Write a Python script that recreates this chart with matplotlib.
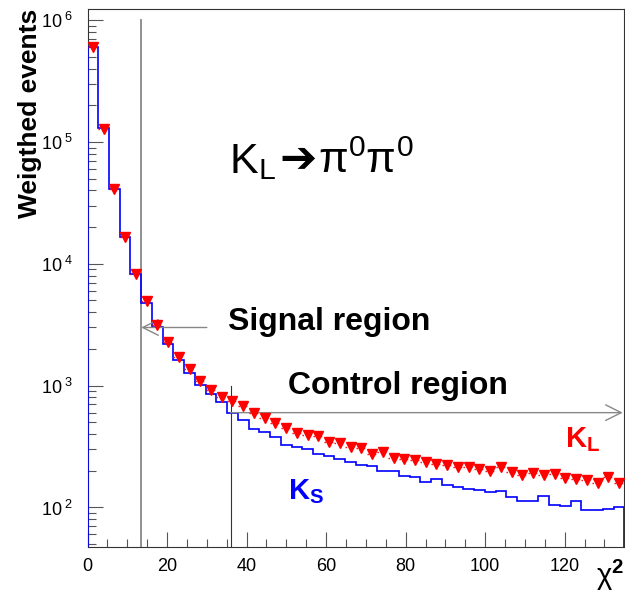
import numpy as np
import matplotlib
matplotlib.use('Agg')
import matplotlib.pyplot as plt
from matplotlib.ticker import FixedLocator, FixedFormatter, MultipleLocator

plt.rcParams['font.family'] = ['Liberation Sans', 'DejaVu Sans']
plt.rcParams['mathtext.fontset'] = 'custom'
plt.rcParams['mathtext.rm'] = 'Liberation Sans'
plt.rcParams['mathtext.it'] = 'Liberation Sans:italic'
plt.rcParams['mathtext.bf'] = 'Liberation Sans:bold'

# chi2 histogram: 50 bins of width 2.7 between 0 and 135
bin_edges = np.linspace(0, 135, 51)

# K_S reference sample (blue histogram)
ks_events = [6.0e5, 1.3e5, 4.1e4, 1.67e4, 8.2e3, 4.8e3, 3.05e3, 2.2e3, 1.62e3, 1.27e3,
             1.02e3, 850, 730, 600, 520, 440, 418, 380, 328, 315,
             300, 275, 262, 252, 237, 222, 218, 200, 200, 180,
             178, 163, 170, 153, 148, 143, 140, 134, 136, 122,
             113, 113, 124, 104, 103, 113, 95, 95, 98, 100]

# K_L sample (red triangles)
kl_events = [6.0e5, 1.28e5, 4.1e4, 1.65e4, 8.2e3, 4.95e3, 3.15e3, 2.28e3, 1.72e3, 1.36e3,
             1.1e3, 920, 810, 748, 680, 600, 540, 495, 448, 405,
             393, 385, 346, 339, 315, 305, 274, 286, 257, 252,
             245, 237, 227, 222, 215, 213, 205, 200, 213, 196,
             185, 190, 184, 188, 176, 170, 167, 159, 177, 160]

signal_cut = 13.5
control_cut = 36.0

fig = plt.figure(figsize=(6.25, 6.11), dpi=100)
ax = fig.add_axes([0.14, 0.105, 0.859, 0.88])

centers = 0.5 * (bin_edges[:-1] + bin_edges[1:])
ax.stairs(ks_events, bin_edges, baseline=1e-3, color='#0000ff', lw=1.2, zorder=3)
# dotted bin-width bars + markers for K_L
ax.hlines(kl_events, bin_edges[:-1], bin_edges[1:], colors='red', linestyles=':', lw=1.0, zorder=4)
ax.plot(centers, kl_events, linestyle='none', marker='v', markersize=7,
        markerfacecolor='red', markeredgecolor='red', zorder=5)

ax.set_yscale('log')
ax.set_xlim(0, 135)
ax.set_ylim(47.5, 1.23e6)

# cut lines and arrows
ax.plot([signal_cut, signal_cut], [1e6, 47.5], color='#888888', lw=1.3, zorder=2)
ax.plot([control_cut, control_cut], [1e3, 47.5], color='#333333', lw=0.8, zorder=2)
ax.annotate('', xy=(signal_cut, 3000), xytext=(30, 3000),
            arrowprops=dict(arrowstyle='->', color='#888888', lw=1.0,
                            shrinkA=0, shrinkB=0, mutation_scale=28))
ax.annotate('', xy=(134.6, 600), xytext=(control_cut, 600),
            arrowprops=dict(arrowstyle='->', color='#888888', lw=1.0,
                            shrinkA=0, shrinkB=0, mutation_scale=28))

# ticks, ROOT style (inside, left/bottom only)
ax.xaxis.set_major_locator(MultipleLocator(20))
ax.xaxis.set_minor_locator(MultipleLocator(5))
majors = [1e2, 1e3, 1e4, 1e5, 1e6]
ax.yaxis.set_major_locator(FixedLocator(majors))
ax.yaxis.set_major_formatter(FixedFormatter([r'$\mathregular{10^{\ %d}}$' % e for e in range(2, 7)]))
minors = [m * 10 ** e for e in range(1, 7) for m in range(2, 10)]
ax.yaxis.set_minor_locator(FixedLocator(minors))
ax.yaxis.set_minor_formatter(FixedFormatter([''] * len(minors)))
ax.tick_params(which='both', direction='in', top=False, right=False, labelsize=13, color='#555555')
ax.tick_params(which='major', length=11, width=0.8)
ax.tick_params(which='minor', length=6, width=0.8)
ax.tick_params(axis='x', pad=8)
ax.tick_params(axis='y', pad=10)
for s in ax.spines.values():
    s.set_linewidth(0.8)
    s.set_color('#333333')

fig.text(0.048, 0.985, 'Weigthed events', rotation=90, ha='center', va='top',
         fontsize=19, fontweight='bold')
fig.text(0.998, 0.03, r'$\mathregular{\chi^{\mathbf{2}}}$', ha='right', va='bottom', fontsize=21)

# decay label, built from three pieces so the arrow can be a heavy glyph
base_y = 1 - 173 / 611
fig.text(229 / 625, base_y, r'$\mathregular{K_L}$', fontsize=31, ha='left', va='baseline')
fig.text(279 / 625, 1 - 159 / 611, '\u2794', fontsize=32, ha='left', va='center',
         family=['DejaVu Sans'])
fig.text(318 / 625, base_y, r'$\mathregular{\pi^0\pi^0}$', fontsize=31, ha='left', va='baseline')

fig.text(228 / 625, 1 - 322 / 611, 'Signal region', fontsize=23, fontweight='bold',
         ha='left', va='center')
fig.text(288 / 625, 1 - 386 / 611, 'Control region', fontsize=23, fontweight='bold',
         ha='left', va='center')
fig.text(565 / 625, 1 - 440 / 611, r'$\mathbf{K_L}$', fontsize=21, color='red',
         ha='left', va='center')
fig.text(288 / 625, 1 - 492 / 611, r'$\mathbf{K_S}$', fontsize=21, color='#0000ff',
         ha='left', va='center')

fig.savefig('out.png', dpi=100)
